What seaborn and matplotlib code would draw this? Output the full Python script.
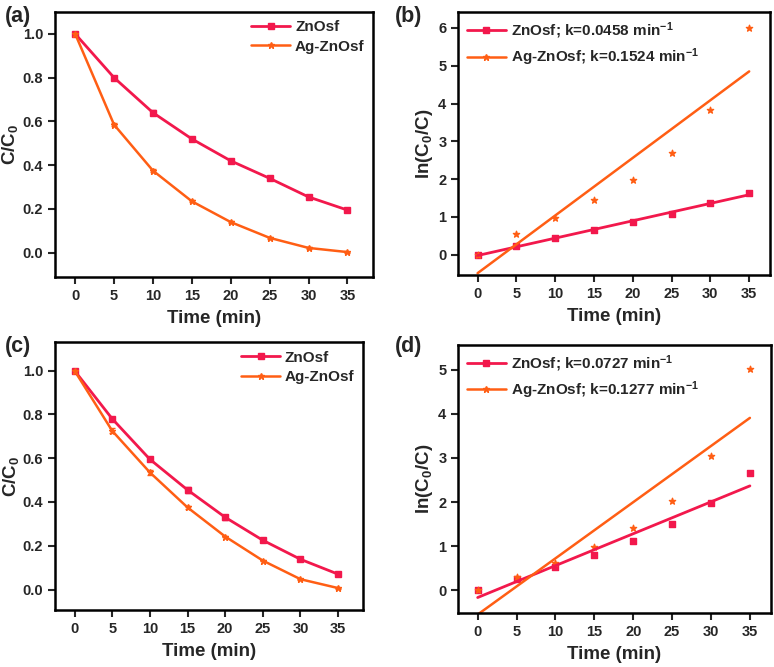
import numpy as np
import seaborn as sns
import matplotlib.pyplot as plt

sns.set_style("ticks")
plt.rcParams['font.family'] = ['Liberation Sans', 'DejaVu Sans']
plt.rcParams['font.weight'] = 'bold'
plt.rcParams['mathtext.fontset'] = 'custom'
plt.rcParams['mathtext.rm'] = 'Liberation Sans:bold'
plt.rcParams['mathtext.bf'] = 'Liberation Sans:bold'
plt.rcParams['mathtext.default'] = 'bf'

RED = "#F2184C"
ORANGE = "#FF5E14"

time = [0, 5, 10, 15, 20, 25, 30, 35]

# (a) C/C0
a_zn = [1.0, 0.80, 0.64, 0.52, 0.42, 0.34, 0.255, 0.195]
a_zn_err = [0, 0.005, 0.012, 0.006, 0.005, 0.004, 0.006, 0.005]
a_ag = [1.0, 0.585, 0.375, 0.235, 0.14, 0.068, 0.022, 0.003]
a_ag_err = [0, 0.006, 0.006, 0.004, 0.004, 0.003, 0.003, 0.002]

# (b) ln(C0/C)
b_zn = [0, 0.22, 0.44, 0.66, 0.87, 1.08, 1.37, 1.63]
b_ag = [0, 0.54, 0.98, 1.45, 1.98, 2.68, 3.82, 6.0]
b_labels = ["ZnOsf; k=0.0458 min$^{-1}$", "Ag-ZnOsf; k=0.1524 min$^{-1}$"]

# (c) C/C0
c_zn = [1.0, 0.78, 0.595, 0.455, 0.33, 0.225, 0.138, 0.07]
c_zn_err = [0, 0.006, 0.007, 0.012, 0.012, 0.004, 0.004, 0.004]
c_ag = [1.0, 0.725, 0.535, 0.375, 0.242, 0.132, 0.047, 0.0065]
c_ag_err = [0, 0.012, 0.01, 0.005, 0.004, 0.003, 0.003, 0.002]

# (d) ln(C0/C)
d_zn = [0, 0.25, 0.52, 0.79, 1.11, 1.49, 1.98, 2.65]
d_ag = [0, 0.30, 0.62, 0.98, 1.42, 2.02, 3.05, 5.03]
d_labels = ["ZnOsf; k=0.0727 min$^{-1}$", "Ag-ZnOsf; k=0.1277 min$^{-1}$"]


def style_axis(ax, xlim, ylim, yticks, ylabel, fmt, ylab_x):
    ax.set_xlim(*xlim)
    ax.set_ylim(*ylim)
    ax.set_xticks(time)
    ax.set_yticks(yticks)
    ax.set_yticklabels([fmt.format(v) for v in yticks])
    ax.set_xlabel("Time (min)", fontsize=13.5, fontweight='bold', labelpad=5)
    ax.set_ylabel(ylabel, fontsize=13.5, fontweight='bold')
    ax.yaxis.set_label_coords(ylab_x, 0.5)
    for s in ax.spines.values():
        s.set_visible(True)
        s.set_linewidth(1.8)
        s.set_color("black")
    ax.tick_params(direction='out', length=5, width=1.5, labelsize=10.5)
    for t in ax.get_xticklabels() + ax.get_yticklabels():
        t.set_fontweight('bold')


def add_legend(ax, labels, loc):
    h1 = plt.Line2D([], [], color=RED, marker='s', ms=4, lw=2)
    h2 = plt.Line2D([], [], color=ORANGE, marker='*', ms=5, lw=1.8)
    leg = ax.legend([h1, h2], labels, loc=loc, frameon=False, fontsize=11,
                    handlelength=2.6, borderaxespad=0.15, handletextpad=0.3,
                    labelspacing=0.35)
    for t in leg.get_texts():
        t.set_fontweight('bold')


def decay_panel(ax, zn, zn_err, ag, ag_err, ylim):
    ax.errorbar(time, zn, yerr=zn_err, color=RED, marker='s', ms=4, lw=2,
                capsize=2)
    ax.errorbar(time, ag, yerr=ag_err, color=ORANGE, marker='*', ms=5, lw=1.8,
                capsize=2)
    style_axis(ax, (-2.6, 38.3), ylim, [0.0, 0.2, 0.4, 0.6, 0.8, 1.0],
               "C/C$_0$", "{:.1f}", -0.11)
    add_legend(ax, ["ZnOsf", "Ag-ZnOsf"], 'upper right')


def kinetic_panel(ax, zn, ag, labels, ylim, yticks):
    sns.regplot(x=time, y=zn, ax=ax, ci=None, color=RED, marker='s',
                scatter_kws={'s': 22, 'alpha': 1}, line_kws={'lw': 2})
    sns.regplot(x=time, y=ag, ax=ax, ci=None, color=ORANGE, marker='*',
                scatter_kws={'s': 22, 'alpha': 1}, line_kws={'lw': 1.8})
    style_axis(ax, (-2.5, 37.7), ylim, yticks, "ln(C$_0$/C)", "{:d}", -0.074)
    add_legend(ax, labels, 'upper left')


fig = plt.figure(figsize=(7.74, 6.67), dpi=100)
ax_a = fig.add_axes([0.071, 0.585, 0.411, 0.397])
ax_b = fig.add_axes([0.592, 0.588, 0.403, 0.394])
ax_c = fig.add_axes([0.071, 0.085, 0.398, 0.402])
ax_d = fig.add_axes([0.592, 0.081, 0.404, 0.402])

decay_panel(ax_a, a_zn, a_zn_err, a_ag, a_ag_err, (-0.11, 1.1))
kinetic_panel(ax_b, b_zn, b_ag, b_labels, (-0.53, 6.42), [0, 1, 2, 3, 4, 5, 6])
decay_panel(ax_c, c_zn, c_zn_err, c_ag, c_ag_err, (-0.095, 1.13))
kinetic_panel(ax_d, d_zn, d_ag, d_labels, (-0.52, 5.57), [0, 1, 2, 3, 4, 5])

for tag, x, y in [("(a)", 0.006, 0.976), ("(b)", 0.51, 0.976),
                  ("(c)", 0.006, 0.48), ("(d)", 0.51, 0.48)]:
    fig.text(x, y, tag, fontsize=15.5, fontweight='bold', va='center')

fig.savefig("out.png", dpi=100)
